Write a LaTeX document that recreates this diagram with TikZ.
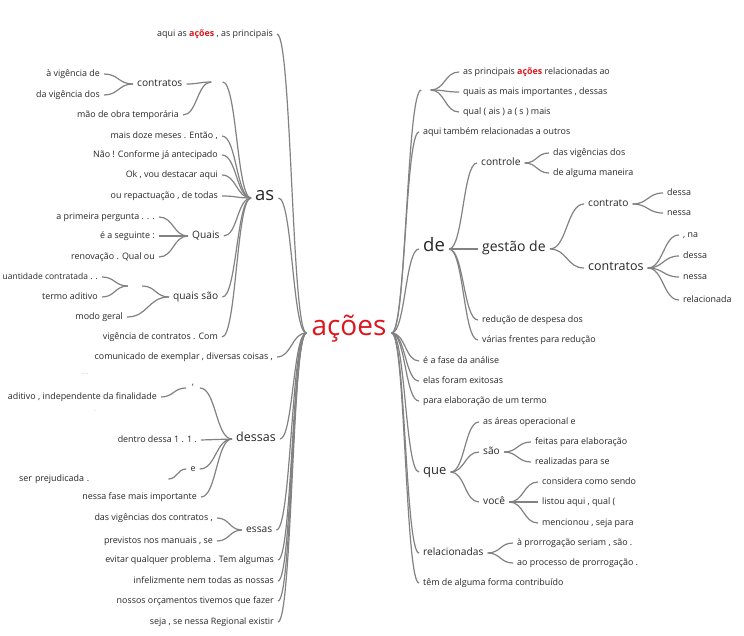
\documentclass[tikz,border=0pt]{standalone}
\usepackage{fontspec}
\setmainfont{Open Sans}
\usepackage{xcolor}
\usetikzlibrary{calc}
\definecolor{wtred}{RGB}{222,22,30}
\definecolor{wttext}{RGB}{40,40,40}
\definecolor{wtline}{RGB}{130,130,130}
\definecolor{wtfaint}{RGB}{205,205,205}
\newcommand\redword[1]{{\color{wtred}\bfseries #1}}

\begin{document}
\begin{tikzpicture}[x=1pt, y=-1pt,
  every node/.style={text=wttext, inner xsep=4pt, inner ysep=1pt},
  w/.style={font=\fontsize{8.9}{10}\selectfont},
  wl/.style={w, anchor=mid east},
  wr/.style={w, anchor=mid west},
  mid/.style={font=\fontsize{10.2}{12}\selectfont},
  big/.style={font=\fontsize{#1}{#1}\selectfont},
  faint/.style={w, text=wtfaint},
  blank/.style={inner sep=0pt, minimum height=2pt, minimum width=#1},
  link/.style={draw=wtline, line width=1.2pt,
    to path={let \p1=(\tikztostart), \p2=(\tikztotarget) in
      .. controls ({(\x1+\x2)/2},\y1) and ({(\x1+\x2)/2},\y2) .. (\p2) \tikztonodes}}
]
  \fill[white] (0,0) rectangle (744,636);
  \useasboundingbox (0,0) rectangle (744,636);

  % root
  \node[big=28, text=wtred, anchor=mid, inner xsep=5pt] (acoes) at (349,333) {ações};

  % left of the root
  \node[wl] (lTop) at (277,34) {aqui as \redword{ações} , as principais};
  \node[big=18.5, anchor=mid west] (as) at (251,198) {as};
  \node[wl] (lCom) at (277,357) {comunicado de exemplar , diversas coisas ,};
  \node[big=12.5, anchor=mid west] (dessas) at (232,439) {dessas};
  \node[mid, anchor=mid west] (essas) at (242,530) {essas};
  \node[wl] (lEvi) at (278,560) {evitar qualquer problema . Tem algumas};
  \node[wl] (lInf) at (278,581) {infelizmente nem todas as nossas};
  \node[wl] (lOrc) at (278,601) {nossos orçamentos tivemos que fazer};
  \node[wl] (lSej) at (278,622) {seja , se nessa Regional existir};

  % under "as"
  \node[blank=11pt] (asX) at (217,82) {};
  \node[mid, anchor=mid west] (contr) at (133,84) {contratos};
  \node[wl] (cVig) at (104,74) {à vigência de};
  \node[wl] (cDa) at (104,95) {da vigência dos};
  \node[wl] (aMao) at (183,115) {mão de obra temporária};
  \node[wl] (aMais) at (222,136) {mais doze meses . Então ,};
  \node[wl] (aNao) at (222,155) {Não ! Conforme já antecipado};
  \node[wl] (aOk) at (222,175) {Ok , vou destacar aqui};
  \node[wl] (aOu) at (222,196) {ou repactuação , de todas};
  \node[mid, anchor=mid west] (quais) at (188,236) {Quais};
  \node[wl] (qPri) at (159,217) {a primeira pergunta . . .};
  \node[wl] (qSeg) at (159,236) {é a seguinte :};
  \node[wl] (qRen) at (159,257) {renovação . Qual ou};
  \node[mid, anchor=mid west] (quaisSao) at (169,297) {quais são};
  \node[blank=14pt] (qsX) at (135,286) {};
  \node[wl, font=\fontsize{8.5}{10}\selectfont] (qsQua) at (102,277) {uantidade contratada . .};
  \node[wl] (qsTer) at (102,297) {termo aditivo};
  \node[wl] (qsMod) at (127,317) {modo geral};
  \node[wl] (aVig) at (222,337) {vigência de contratos . Com};

  % under "dessas"
  \node[faint] (fDots) at (85,374) {...};
  \node[faint] (fDot) at (95,411) {.};
  \node[w, anchor=mid, inner xsep=6pt] (dApo) at (193,388) {'};
  \node[wl] (dAdi) at (161,397) {aditivo , independente da finalidade};
  \node[wl] (dDen) at (201,440) {dentro dessa 1 . 1 .};
  \node[w, anchor=mid] (dE) at (193,469) {e};
  \node[w, anchor=mid west, text width=145pt, align=left] (dSer) at (15,479) {ser prejudicada .};
  \node[wl] (dNes) at (201,497) {nessa fase mais importante};

  % under "essas"
  \node[wl] (eDas) at (217,518) {das vigências dos contratos ,};
  \node[wl] (ePre) at (217,541) {previstos nos manuais , se};

  % right of the root
  \node[blank=9pt] (rX) at (426,90) {};
  \node[wr] (rPri) at (459,72) {as principais \redword{ações} relacionadas ao};
  \node[wr] (rQua) at (459,92) {quais as mais importantes , dessas};
  \node[wr] (rQual) at (459,112) {qual ( ais ) a ( s ) mais};
  \node[wr] (rAqui) at (419,132) {aqui também relacionadas a outros};
  \node[big=18.5, anchor=mid west] (de) at (419,249) {de};
  \node[wr] (rFase) at (419,361) {é a fase da análise};
  \node[wr] (rElas) at (419,381) {elas foram exitosas};
  \node[wr] (rPara) at (419,401) {para elaboração de um termo};
  \node[big=13, anchor=mid west] (que) at (419,472) {que};
  \node[mid, anchor=mid west] (relac) at (419,553) {relacionadas};
  \node[wr] (rTem) at (419,583) {têm de alguma forma contribuído};

  % under "de"
  \node[mid, anchor=mid west] (controle) at (477,163) {controle};
  \node[wr] (coDas) at (549,153) {das vigências dos};
  \node[wr] (coDe) at (549,173) {de alguma maneira};
  \node[big=14, anchor=mid west] (gestao) at (478,249) {gestão de};
  \node[mid, anchor=mid west] (contrato) at (584,204) {contrato};
  \node[wr] (ctDessa) at (663,193) {dessa};
  \node[wr] (ctNessa) at (663,213) {nessa};
  \node[big=12.5, anchor=mid west] (contratos) at (584,268) {contratos};
  \node[wr] (csNa) at (679,235) {, na};
  \node[wr] (csDessa) at (679,256) {dessa};
  \node[wr] (csNessa) at (679,277) {nessa};
  \node[wr] (csRel) at (679,300) {relacionada};
  \node[wr] (deRed) at (478,320) {redução de despesa dos};
  \node[wr] (deVar) at (478,340) {várias frentes para redução};

  % under "que"
  \node[wr] (quAre) at (479,422) {as áreas operacional e};
  \node[mid, anchor=mid west] (sao) at (479,452) {são};
  \node[wr] (saFei) at (531,442) {feitas para elaboração};
  \node[wr] (saRea) at (531,462) {realizadas para se};
  \node[mid, anchor=mid west] (voce) at (479,502) {você};
  \node[wr] (voCon) at (538,482) {considera como sendo};
  \node[wr] (voLis) at (538,502) {listou aqui , qual (};
  \node[wr] (voMen) at (538,523) {mencionou , seja para};
  \node[wr] (reA) at (513,543) {à prorrogação seriam , são .};
  \node[wr] (reAo) at (513,563) {ao processo de prorrogação .};

  % connectors, left side
  \foreach \k in {lTop,as,lCom,dessas,essas,lEvi,lInf,lOrc,lSej}
    \draw[link] (\k.mid east) to (acoes.mid west);
  \foreach \k in {aMais,aNao,aOk,aOu,quais,quaisSao,aVig}
    \draw[link] (\k.mid east) to (as.mid west);
  \draw[link] (asX.east) to (as.mid west);
  \draw[link] (contr.mid east) to (asX.west);
  \draw[link] (aMao.mid east) to (asX.west);
  \foreach \k in {cVig,cDa}
    \draw[link] (\k.mid east) to (contr.mid west);
  \foreach \k in {qPri,qSeg,qRen}
    \draw[link] (\k.mid east) to (quais.mid west);
  \draw[link] (qsX.east) to (quaisSao.mid west);
  \draw[link] (qsMod.mid east) to (quaisSao.mid west);
  \foreach \k in {qsQua,qsTer}
    \draw[link] (\k.mid east) to (qsX.west);
  \foreach \k in {dApo,dDen,dE,dNes}
    \draw[link] (\k.mid east) to (dessas.mid west);
  \draw[link] (dAdi.mid east) to (dApo.mid west);
  \draw[link] (dSer.mid east) to (dE.mid west);
  \foreach \k in {eDas,ePre}
    \draw[link] (\k.mid east) to (essas.mid west);

  % connectors, right side
  \draw[link] (acoes.mid east) to (rX.west);
  \foreach \k in {rAqui,de,rFase,rElas,rPara,que,relac,rTem}
    \draw[link] (acoes.mid east) to (\k.mid west);
  \foreach \k in {rPri,rQua,rQual}
    \draw[link] (rX.east) to (\k.mid west);
  \foreach \k in {controle,gestao,deRed,deVar}
    \draw[link] (de.mid east) to (\k.mid west);
  \foreach \k in {coDas,coDe}
    \draw[link] (controle.mid east) to (\k.mid west);
  \foreach \k in {contrato,contratos}
    \draw[link] (gestao.mid east) to (\k.mid west);
  \foreach \k in {ctDessa,ctNessa}
    \draw[link] (contrato.mid east) to (\k.mid west);
  \foreach \k in {csNa,csDessa,csNessa,csRel}
    \draw[link] (contratos.mid east) to (\k.mid west);
  \foreach \k in {quAre,sao,voce}
    \draw[link] (que.mid east) to (\k.mid west);
  \foreach \k in {saFei,saRea}
    \draw[link] (sao.mid east) to (\k.mid west);
  \foreach \k in {voCon,voLis,voMen}
    \draw[link] (voce.mid east) to (\k.mid west);
  \foreach \k in {reA,reAo}
    \draw[link] (relac.mid east) to (\k.mid west);
\end{tikzpicture}
\end{document}
